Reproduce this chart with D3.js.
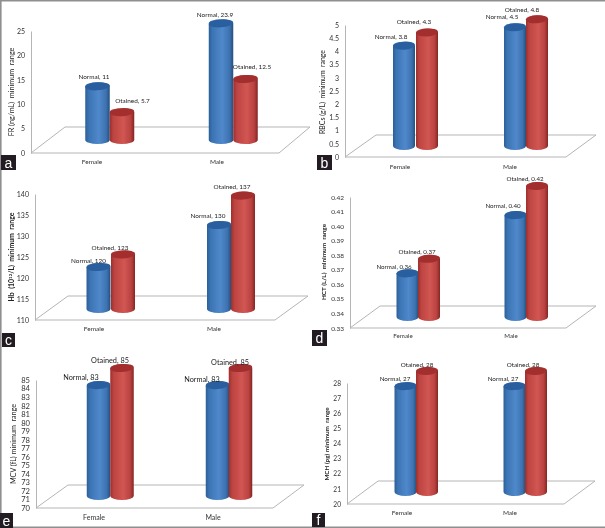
<!DOCTYPE html>
<html><head><meta charset="utf-8">
<style>html,body{margin:0;padding:0;background:#fff}svg{display:block}</style>
<script src="https://cdn.jsdelivr.net/npm/d3@7/dist/d3.min.js"></script>
</head><body><svg id="c" width="605" height="528"></svg>
<script>
const categories = ["Female","Male"];
const seriesNames = ["Normal","Otained"];
const frNormal=[11,23.9], frObtained=[5.7,12.5];
const rbcNormal=[3.8,4.5], rbcObtained=[4.3,4.8];
const hbNormal=[120,130], hbObtained=[123,137];
const hctNormal=[0.36,0.40], hctObtained=[0.37,0.42];
const mcvNormal=[83,83], mcvObtained=[85,85];
const mchNormal=[27,27], mchObtained=[28,28];
const frTicks=[0,5,10,15,20,25];
const rbcTicks=[0,0.5,1,1.5,2,2.5,3,3.5,4,4.5,5];
const hbTicks=[110,115,120,125,130,135,140];
const hctTicks=[0.33,0.34,0.35,0.36,0.37,0.38,0.39,0.40,0.41,0.42];
const mcvTicks=[70,71,72,73,74,75,76,77,78,79,80,81,82,83,84,85];
const mchTicks=[20,21,22,23,24,25,26,27,28];

const panels=[
 {tag:"a",box:[1,155,15,15],normal:frNormal,obtained:frObtained,ticks:frTicks,fmt:d=>d,
  yl:["FR (ng/mL)  minimum  range"],bold:false,ylFs:7.2,ylX:11,ylY:92,
  ax:31,top:31,bot:153,fr:279,bkR:310,bkL:65,bkY:127,base:140,
  bw:24.5,cx:[97.5,122,221,245.5],catX:[92,217],catY:162,catFs:6.5,
  off:[[-3.5,-10],[10.5,-11],[-6,-9],[6.5,-12]],fs:6.4,tfs:7},
 {tag:"b",box:[317,155,15,15],normal:rbcNormal,obtained:rbcObtained,ticks:rbcTicks,fmt:d=>d,
  yl:["RBCs (g/L)  minimum  range"],bold:false,ylFs:6.9,ylX:323,ylY:92,
  ax:345,top:25,bot:157,fr:566,bkR:596,bkL:376,bkY:135,base:146,
  bw:22,cx:[404,427,515,537],catX:[400,510],catY:167,catFs:6.5,
  off:[[-13,-9],[-13,-11],[-13,-10],[-15,-10]],fs:6.4,tfs:7},
 {tag:"c",box:[2,333,13,14],normal:hbNormal,obtained:hbObtained,ticks:hbTicks,fmt:d=>d,
  yl:["Hb  (10","12","/L)  minimum  range"],bold:true,ylFs:6.9,ylX:12,ylY:257,
  ax:35,top:194,bot:320,fr:275,bkR:308,bkL:68,bkY:296,base:309,
  bw:24,cx:[98.5,123,219,243],catX:[94,214],catY:329,catFs:6.5,
  off:[[-10,-6],[-13,-7],[-11,-9],[-11,-9]],fs:6.4,tfs:7},
 {tag:"d",box:[312,330,15,16],normal:hctNormal,obtained:hctObtained,ticks:hctTicks,fmt:d3.format(".2f"),
  yl:["HCT (L/L)  minimum  range"],bold:true,ylFs:6.4,ylX:324,ylY:262,
  ax:350,top:197,bot:328,fr:566,bkR:596,bkL:380,bkY:306,base:317,
  bw:22,cx:[407.5,429,515.5,537],catX:[403,511],catY:336,catFs:6.2,
  off:[[-13.5,-7],[-12,-7],[-12.5,-9],[-12,-7]],fs:6.2,tfs:6.5},
 {tag:"e",box:[0,513,13,15],normal:mcvNormal,obtained:mcvObtained,ticks:mcvTicks,fmt:d=>d,
  yl:["MCV (fL) minimum  range"],bold:false,ylFs:7.2,ylX:13,ylY:444,
  ax:36,top:380,bot:508,fr:273,bkR:304,bkL:68,bkY:485,base:496,
  bw:23.5,cx:[98.5,122,217.5,240.5],catX:[94,213],catY:518,catFs:7,
  off:[[-17.5,-8],[-12,-8],[-15.5,-6],[-10.5,-6]],fs:7.3,tfs:7.6},
 {tag:"f",box:[312,513,13,14],normal:mchNormal,obtained:mchObtained,ticks:mchTicks,fmt:d=>d,
  yl:["MCH (pg) minimum  range"],bold:true,ylFs:6.3,ylX:327,ylY:444,
  ax:347,top:383,bot:504,fr:564,bkR:595,bkL:378,bkY:481,base:492,
  bw:22,cx:[405.5,427,514.5,536],catX:[402,510],catY:513,catFs:6.5,
  off:[[-10.5,-7],[-10,-6],[-11.5,-7],[-13,-6]],fs:6.3,tfs:6.6}
];

const font="Lato, 'Open Sans', sans-serif";
const svg=d3.select("#c");
const defs=svg.append("defs");
function grad(id,stops){
  const g=defs.append("linearGradient").attr("id",id).attr("x1",0).attr("x2",1).attr("y1",0).attr("y2",0);
  stops.forEach(s=>g.append("stop").attr("offset",s[0]).attr("stop-color",s[1]));
}
grad("gb",[[0,"#2c5f98"],[.15,"#3b74b4"],[.55,"#5089cb"],[.85,"#3d72b0"],[1,"#24507f"]]);
grad("gr",[[0,"#9c2f2d"],[.15,"#bd4441"],[.55,"#d15653"],[.85,"#b94240"],[1,"#842523"]]);
const soft=defs.append("filter").attr("id","soft").attr("x","-2%").attr("y","-2%").attr("width","104%").attr("height","104%");
soft.append("feGaussianBlur").attr("stdDeviation",0.4);

const root=svg.append("g").attr("filter","url(#soft)");
root.append("rect").attr("width",605).attr("height",528).attr("fill","#fff");
const frameG=root.append("g").attr("stroke","#8f8f8f").attr("stroke-width",1.6).attr("fill","none");
frameG.append("path").attr("d","M605 0.8H0.8V527.3H605");

panels.forEach(p=>{
  const g=root.append("g");
  const y=d3.scaleLinear().domain(d3.extent(p.ticks)).range([p.bot,p.top]);
  const dz=p.bot-p.base;
  const yBar=v=>y(v)-dz;
  g.append("path").attr("fill","none").attr("stroke","#b5b5b5").attr("stroke-width",1)
   .attr("d",d3.line()([[p.ax,p.bot],[p.fr,p.bot],[p.bkR,p.bkY],[p.bkL,p.bkY],[p.ax,p.bot]]));
  const axis=d3.axisLeft(y).tickValues(p.ticks).tickFormat(p.fmt).tickSize(0).tickPadding(6);
  const ag=g.append("g").attr("transform",`translate(${p.ax},0)`).call(axis);
  ag.select(".domain").attr("stroke","#b5b5b5");
  ag.selectAll("text").attr("font-family",font).attr("font-size",p.tfs).attr("fill","#333");
  const t=g.append("text").attr("transform",`translate(${p.ylX},${p.ylY}) rotate(-90)`)
    .attr("text-anchor","middle").attr("dy","0.35em").attr("xml:space","preserve")
    .attr("font-family",font).attr("font-size",p.ylFs).attr("fill","#222")
    .attr("font-weight",p.bold?700:400);
  if(p.yl.length===1){t.text(p.yl[0]);}
  else{
    t.append("tspan").text(p.yl[0]);
    t.append("tspan").attr("dy","-2").attr("font-size",4.5).text(p.yl[1]);
    t.append("tspan").attr("dy","2").text(p.yl[2]);
  }
  g.selectAll(".cat").data(categories).join("text").attr("class","cat")
    .attr("x",(d,i)=>p.catX[i]).attr("y",p.catY).attr("text-anchor","middle").attr("dy","0.35em")
    .attr("font-family",font).attr("font-size",p.catFs).attr("fill","#333").text(d=>d);
  const rows=[];
  categories.forEach((c,ci)=>{
    rows.push({s:0,v:p.normal[ci],i:ci*2});
    rows.push({s:1,v:p.obtained[ci],i:ci*2+1});
  });
  const ry=4;
  const top=[ "#2b5f9f","#a32f2e" ];
  rows.forEach(r=>{
    const cx=p.cx[r.i], rx=p.bw/2, yt=yBar(r.v), yb=p.base;
    g.append("path").attr("fill",r.s?"url(#gr)":"url(#gb)")
     .attr("d",`M${cx-rx} ${yt}A${rx} ${ry} 0 0 1 ${cx+rx} ${yt}V${yb}A${rx} ${ry} 0 0 1 ${cx-rx} ${yb}Z`);
    g.append("ellipse").attr("cx",cx).attr("cy",yt).attr("rx",rx).attr("ry",ry)
     .attr("transform",`rotate(-4 ${cx} ${yt})`).attr("fill",top[r.s]);
  });
  rows.forEach(r=>{
    const [dx,dy]=p.off[r.i];
    const lab=p.tag==="d"?p.fmt(r.v):r.v;
    g.append("text").attr("x",p.cx[r.i]+dx).attr("y",yBar(r.v)+dy).attr("dy","0.35em")
     .attr("text-anchor","middle").attr("font-family",font).attr("font-size",p.fs).attr("fill","#222")
     .text(`${seriesNames[r.s]}, ${lab}`);
  });
  const [bx,by,bw,bh]=p.box;
  g.append("rect").attr("x",bx).attr("y",by).attr("width",bw).attr("height",bh).attr("fill","#231f20");
  g.append("text").attr("x",bx+bw/2).attr("y",by+bh/2).attr("dy","0.36em").attr("text-anchor","middle")
   .attr("font-family","'Liberation Sans',sans-serif").attr("font-size",14).attr("fill","#fff").text(p.tag);
});
</script></body></html>
